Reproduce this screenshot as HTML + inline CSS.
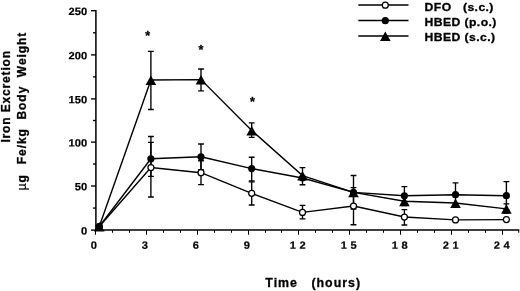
<!DOCTYPE html>
<html><head><meta charset="utf-8"><title>Iron Excretion</title>
<style>html,body{margin:0;padding:0;background:#fff}svg{display:block}</style>
</head><body>
<svg width="520" height="291" viewBox="0 0 520 291">
<rect width="520" height="291" fill="#fff"/>
<g stroke="#000" stroke-width="1.35" fill="none">
<path d="M95.9 10.1V230.1H519.3" stroke-width="1.5"/>
<path d="M91 230.10H95.9"/>
<path d="M93 208.05H95.9"/>
<path d="M91 186.00H95.9"/>
<path d="M93 164.05H95.9"/>
<path d="M91 142.10H95.9"/>
<path d="M93 120.50H95.9"/>
<path d="M91 98.90H95.9"/>
<path d="M93 76.90H95.9"/>
<path d="M91 54.90H95.9"/>
<path d="M93 32.80H95.9"/>
<path d="M91 10.70H95.9"/>
<path d="M95.50 230.1v4.7" stroke-width="1.05"/>
<path d="M112.50 230.1v2.7" stroke-width="1.05"/>
<path d="M129.50 230.1v2.7" stroke-width="1.05"/>
<path d="M146.50 230.1v4.7" stroke-width="1.05"/>
<path d="M163.50 230.1v2.7" stroke-width="1.05"/>
<path d="M180.50 230.1v2.7" stroke-width="1.05"/>
<path d="M197.50 230.1v4.7" stroke-width="1.05"/>
<path d="M214.50 230.1v2.7" stroke-width="1.05"/>
<path d="M231.50 230.1v2.7" stroke-width="1.05"/>
<path d="M248.50 230.1v4.7" stroke-width="1.05"/>
<path d="M265.50 230.1v2.7" stroke-width="1.05"/>
<path d="M281.50 230.1v2.7" stroke-width="1.05"/>
<path d="M298.50 230.1v4.7" stroke-width="1.05"/>
<path d="M315.50 230.1v2.7" stroke-width="1.05"/>
<path d="M332.50 230.1v2.7" stroke-width="1.05"/>
<path d="M349.50 230.1v4.7" stroke-width="1.05"/>
<path d="M366.50 230.1v2.7" stroke-width="1.05"/>
<path d="M383.50 230.1v2.7" stroke-width="1.05"/>
<path d="M400.50 230.1v4.7" stroke-width="1.05"/>
<path d="M417.50 230.1v2.7" stroke-width="1.05"/>
<path d="M434.50 230.1v2.7" stroke-width="1.05"/>
<path d="M451.50 230.1v4.7" stroke-width="1.05"/>
<path d="M468.50 230.1v2.7" stroke-width="1.05"/>
<path d="M485.50 230.1v2.7" stroke-width="1.05"/>
<path d="M502.50 230.1v4.7" stroke-width="1.05"/>
<path d="M518.70 230.1v2.7" stroke-width="1.05"/>
<path d="M150.90 136.5V197M148.00 136.5h5.8M148.00 197h5.8"/>
<path d="M201.00 160.7V184.6M198.10 160.7h5.8M198.10 184.6h5.8"/>
<path d="M251.70 181.8V205M248.80 181.8h5.8M248.80 205h5.8"/>
<path d="M302.50 205.4V218.8M299.60 205.4h5.8M299.60 218.8h5.8"/>
<path d="M353.50 187.6V224.7M350.60 187.6h5.8M350.60 224.7h5.8"/>
<path d="M404.40 209.6V225.0M401.50 209.6h5.8M401.50 225.0h5.8"/>
<path d="M150.90 142.3V176.4M148.00 142.3h5.8M148.00 176.4h5.8"/>
<path d="M201.00 144V169.6M198.10 144h5.8M198.10 169.6h5.8"/>
<path d="M251.70 157.2V180.8M248.80 157.2h5.8M248.80 180.8h5.8"/>
<path d="M353.50 175.5V209M350.60 175.5h5.8M350.60 209h5.8"/>
<path d="M404.40 186.6V205.5M401.50 186.6h5.8M401.50 205.5h5.8"/>
<path d="M455.50 182.8V206.6M452.60 182.8h5.8M452.60 206.6h5.8"/>
<path d="M506.40 181.6V210M503.50 181.6h5.8M503.50 210h5.8"/>
<path d="M150.90 51.3V109.5M148.00 51.3h5.8M148.00 109.5h5.8"/>
<path d="M201.00 69V90.9M198.10 69h5.8M198.10 90.9h5.8"/>
<path d="M251.70 122.8V137.3M248.80 122.8h5.8M248.80 137.3h5.8"/>
<path d="M302.50 167.6V184.7M299.60 167.6h5.8M299.60 184.7h5.8"/>
<path d="M506.40 203.9V213M503.50 203.9h5.8M503.50 213h5.8"/>
<polyline points="99.30,226.5 150.90,167.5 201.00,172.7 251.70,193.3 302.50,212.4 353.50,206 404.40,217 455.50,219.9 506.40,219.6" stroke-width="1.4"/>
<polyline points="99.30,226.5 150.90,158.8 201.00,156.8 251.70,168.6 302.50,178.0 353.50,192.4 404.40,195.8 455.50,194.7 506.40,195.7" stroke-width="1.4"/>
<polyline points="99.30,226.5 150.90,80 201.00,79.6 251.70,130.5 302.50,175.6 353.50,192.4 404.40,201.3 455.50,203.0 506.40,208.9" stroke-width="1.4"/>
<path d="M358.3 5.0H408.5" stroke-width="1.4"/>
<path d="M358.3 20.5H408.5" stroke-width="1.4"/>
<path d="M358.3 36.0H408.5" stroke-width="1.4"/>
</g>
<circle cx="99.30" cy="226.5" r="3.0" fill="#fff" stroke="#000" stroke-width="1.25"/>
<circle cx="150.90" cy="167.5" r="3.0" fill="#fff" stroke="#000" stroke-width="1.25"/>
<circle cx="201.00" cy="172.7" r="3.0" fill="#fff" stroke="#000" stroke-width="1.25"/>
<circle cx="251.70" cy="193.3" r="3.0" fill="#fff" stroke="#000" stroke-width="1.25"/>
<circle cx="302.50" cy="212.4" r="3.0" fill="#fff" stroke="#000" stroke-width="1.25"/>
<circle cx="353.50" cy="206" r="3.0" fill="#fff" stroke="#000" stroke-width="1.25"/>
<circle cx="404.40" cy="217" r="3.0" fill="#fff" stroke="#000" stroke-width="1.25"/>
<circle cx="455.50" cy="219.9" r="3.0" fill="#fff" stroke="#000" stroke-width="1.25"/>
<circle cx="506.40" cy="219.6" r="3.0" fill="#fff" stroke="#000" stroke-width="1.25"/>
<circle cx="99.30" cy="226.5" r="3.6" fill="#000"/>
<circle cx="150.90" cy="158.8" r="3.6" fill="#000"/>
<circle cx="201.00" cy="156.8" r="3.6" fill="#000"/>
<circle cx="251.70" cy="168.6" r="3.6" fill="#000"/>
<circle cx="302.50" cy="178.0" r="3.6" fill="#000"/>
<circle cx="353.50" cy="192.4" r="3.6" fill="#000"/>
<circle cx="404.40" cy="195.8" r="3.6" fill="#000"/>
<circle cx="455.50" cy="194.7" r="3.6" fill="#000"/>
<circle cx="506.40" cy="195.7" r="3.6" fill="#000"/>
<path d="M99.30 221.90L104.60 231.40H94.00Z" fill="#000"/>
<path d="M150.90 75.40L156.20 84.90H145.60Z" fill="#000"/>
<path d="M201.00 75.00L206.30 84.50H195.70Z" fill="#000"/>
<path d="M251.70 125.90L257.00 135.40H246.40Z" fill="#000"/>
<path d="M302.50 171.00L307.80 180.50H297.20Z" fill="#000"/>
<path d="M353.50 187.80L358.80 197.30H348.20Z" fill="#000"/>
<path d="M404.40 196.70L409.70 206.20H399.10Z" fill="#000"/>
<path d="M455.50 198.40L460.80 207.90H450.20Z" fill="#000"/>
<path d="M506.40 204.30L511.70 213.80H501.10Z" fill="#000"/>
<circle cx="385.30" cy="5.2" r="3.0" fill="#fff" stroke="#000" stroke-width="1.25"/>
<circle cx="385.30" cy="20.7" r="3.6" fill="#000"/>
<path d="M385.30 31.50L390.60 41.00H380.00Z" fill="#000"/>
<g font-family="'Liberation Sans', Arial, Helvetica, sans-serif" font-weight="bold" fill="#000" stroke="#000" stroke-width="0.3" stroke-linejoin="round">
<text transform="translate(87.3 234.45) rotate(0.03) scale(1.06 1)" font-size="10.5" stroke-width="0.2" text-anchor="end" letter-spacing="0.1">0</text>
<text transform="translate(87.3 190.35) rotate(0.03) scale(1.06 1)" font-size="10.5" stroke-width="0.2" text-anchor="end" letter-spacing="0.1">50</text>
<text transform="translate(87.3 146.45) rotate(0.03) scale(1.06 1)" font-size="10.5" stroke-width="0.2" text-anchor="end" letter-spacing="0.1">100</text>
<text transform="translate(87.3 103.25) rotate(0.03) scale(1.06 1)" font-size="10.5" stroke-width="0.2" text-anchor="end" letter-spacing="0.1">150</text>
<text transform="translate(87.3 59.25) rotate(0.03) scale(1.06 1)" font-size="10.5" stroke-width="0.2" text-anchor="end" letter-spacing="0.1">200</text>
<text transform="translate(87.3 15.05) rotate(0.03) scale(1.06 1)" font-size="10.5" stroke-width="0.2" text-anchor="end" letter-spacing="0.1">250</text>
<text transform="translate(93.80 248.7) rotate(0.03) scale(1.06 1)" font-size="10.5" stroke-width="0.2" text-anchor="middle">0</text>
<text transform="translate(144.80 248.7) rotate(0.03) scale(1.06 1)" font-size="10.5" stroke-width="0.2" text-anchor="middle">3</text>
<text transform="translate(195.80 248.7) rotate(0.03) scale(1.06 1)" font-size="10.5" stroke-width="0.2" text-anchor="middle">6</text>
<text transform="translate(246.80 248.7) rotate(0.03) scale(1.06 1)" font-size="10.5" stroke-width="0.2" text-anchor="middle">9</text>
<text transform="translate(289.80 248.7) rotate(0.03) scale(1.06 1)" font-size="10.5" stroke-width="0.2" letter-spacing="3.4">12</text>
<text transform="translate(340.80 248.7) rotate(0.03) scale(1.06 1)" font-size="10.5" stroke-width="0.2" letter-spacing="3.4">15</text>
<text transform="translate(391.80 248.7) rotate(0.03) scale(1.06 1)" font-size="10.5" stroke-width="0.2" letter-spacing="3.4">18</text>
<text transform="translate(442.80 248.7) rotate(0.03) scale(1.06 1)" font-size="10.5" stroke-width="0.2" letter-spacing="3.4">21</text>
<text transform="translate(493.80 248.7) rotate(0.03) scale(1.06 1)" font-size="10.5" stroke-width="0.2" letter-spacing="3.4">24</text>
<text transform="translate(424.6 10.7) scale(1.05 1)" font-size="11.6" letter-spacing="0.4" xml:space="preserve">DFO   (s.c.)</text>
<text transform="translate(424.6 26.1) scale(1.05 1)" font-size="11.6" letter-spacing="0.4" xml:space="preserve">HBED (p.o.)</text>
<text transform="translate(424.6 41.3) scale(1.05 1)" font-size="11.6" letter-spacing="0.4" xml:space="preserve">HBED (s.c.)</text>
<text transform="translate(265.3 287) scale(1.03 1)" font-size="12" letter-spacing="1" xml:space="preserve">Time   (hours)</text>
<text transform="translate(10 142.6) rotate(-90)" font-size="12" letter-spacing="0.85" xml:space="preserve">Iron Excretion</text>
<text transform="translate(25.8 190.3) rotate(-90)" font-size="12" letter-spacing="0.9"><tspan font-weight="normal" stroke-width="0.15">µ</tspan>g</text>
<text transform="translate(25.8 164.2) rotate(-90)" font-size="12" letter-spacing="0.95" xml:space="preserve">Fe/kg  Body  Weight</text>
<text x="147.8" y="40.20" font-size="12.5" text-anchor="middle">*</text>
<text x="200.9" y="53.50" font-size="12.5" text-anchor="middle">*</text>
<text x="252.4" y="106.45" font-size="12.5" text-anchor="middle">*</text>
</g>
</svg>
</body></html>
